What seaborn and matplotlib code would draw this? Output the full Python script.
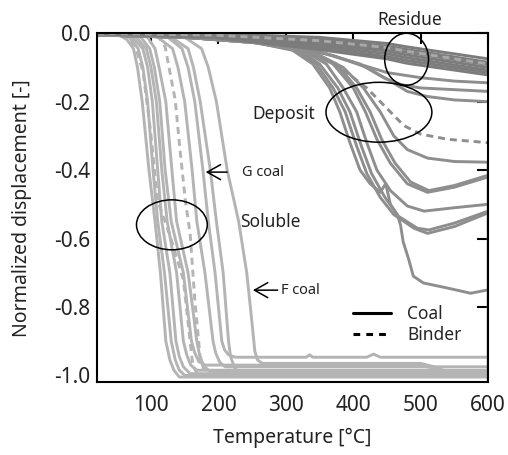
import matplotlib
matplotlib.use("Agg")
import matplotlib.pyplot as plt
import seaborn as sns
from matplotlib.patches import Ellipse
from matplotlib.lines import Line2D

sns.set_theme(style="white")
plt.rcParams['font.family'] = ['Noto Sans', 'DejaVu Sans']
plt.rcParams['axes.unicode_minus'] = False

# ---------------- data ----------------
# Soluble (light gray) - coal (solid)
sol1_T = [20, 45, 62, 74, 80, 87, 97, 106, 114, 122, 128, 134, 142, 600]
sol1_D = [0, -0.002, -0.012, -0.045, -0.1, -0.2, -0.4, -0.55, -0.7, -0.9, -0.955, -0.985, -1.005, -1.005]
sol2_T = [20, 50, 68, 81, 88, 95, 103, 110, 120, 130, 136, 142, 150, 600]
sol2_D = [0, -0.002, -0.012, -0.045, -0.1, -0.2, -0.4, -0.55, -0.7, -0.9, -0.955, -0.985, -1.0, -1.0]
sol3_T = [20, 55, 72, 88, 95, 102, 110, 116, 128, 137, 142, 148, 158, 600]
sol3_D = [0, -0.002, -0.012, -0.045, -0.1, -0.2, -0.4, -0.55, -0.7, -0.9, -0.945, -0.975, -0.995, -0.995]
sol4_T = [20, 60, 78, 93, 100, 108, 116, 124, 138, 148, 153, 159, 168, 600]
sol4_D = [0, -0.002, -0.012, -0.045, -0.1, -0.2, -0.4, -0.55, -0.7, -0.9, -0.94, -0.97, -0.985, -0.985]
sol5_T = [20, 65, 85, 98, 105, 113, 121, 130, 148, 160, 165, 171, 180, 500, 530, 555, 600]
sol5_D = [0, -0.002, -0.012, -0.045, -0.1, -0.2, -0.4, -0.55, -0.7, -0.9, -0.935, -0.96, -0.97, -0.97,
          -0.985, -1.0, -1.0]
sol6_T = [20, 75, 95, 106, 112, 122, 131, 138, 155, 168, 172, 178, 188, 600]
sol6_D = [0, -0.002, -0.012, -0.045, -0.1, -0.2, -0.4, -0.55, -0.7, -0.9, -0.94, -0.972, -0.99, -0.99]
sol7_T = [20, 90, 110, 132, 140, 150, 161, 168, 180, 192, 196, 202, 210, 600]
sol7_D = [0, -0.002, -0.012, -0.045, -0.1, -0.2, -0.4, -0.55, -0.7, -0.9, -0.935, -0.962, -0.975, -0.975]
solG_T = [20, 100, 125, 146, 155, 165, 177, 185, 195, 205, 209, 215, 225, 330, 335, 340, 420, 430, 440, 600]
solG_D = [0, -0.002, -0.012, -0.045, -0.1, -0.2, -0.4, -0.55, -0.7, -0.9, -0.925, -0.94, -0.947, -0.947,
          -0.94, -0.947, -0.947, -0.938, -0.947, -0.947]
sol8_T = [20, 110, 130, 155, 163, 173, 188, 197, 207, 215, 218, 224, 232, 600]
sol8_D = [0, -0.002, -0.012, -0.045, -0.1, -0.2, -0.4, -0.55, -0.7, -0.9, -0.945, -0.978, -0.995, -0.995]
solF_T = [20, 125, 150, 175, 185, 197, 213, 230, 242, 250, 254, 258, 265, 500, 520, 540, 570, 600]
solF_D = [0, -0.002, -0.012, -0.045, -0.1, -0.2, -0.4, -0.55, -0.7, -0.85, -0.93, -0.955, -0.965, -0.965,
          -0.975, -0.99, -1.0, -1.0]
# Soluble - binder (dashed)
solbA_T = [20, 50, 61, 76, 88, 99, 110, 128, 148, 158, 162, 170, 600]
solbA_D = [0, 0, -0.015, -0.035, -0.11, -0.28, -0.49, -0.59, -0.72, -0.9, -0.97, -1.0, -1.0]
solbB_T = [20, 99, 112, 121, 136, 143, 151, 158, 165, 173, 178, 186, 600]
solbB_D = [0, 0, -0.012, -0.04, -0.196, -0.34, -0.49, -0.585, -0.78, -0.95, -0.98, -0.99, -0.99]

# Deposit (medium gray) - coal (solid)
dep1_T = [20, 200, 300, 350, 400, 450, 500, 550, 600]
dep1_D = [-0.005, -0.015, -0.033, -0.055, -0.085, -0.115, -0.13, -0.14, -0.145]
dep2_T = [20, 200, 300, 360, 410, 445, 470, 500, 550, 600]
dep2_D = [-0.005, -0.015, -0.035, -0.06, -0.09, -0.13, -0.15, -0.16, -0.165, -0.17]
dep3_T = [20, 200, 300, 370, 420, 455, 480, 510, 550, 600]
dep3_D = [-0.005, -0.016, -0.036, -0.065, -0.1, -0.14, -0.17, -0.185, -0.195, -0.2]
dep4_T = [20, 150, 270, 340, 385, 415, 440, 460, 480, 510, 550, 600, 600]
dep4_D = [-0.005, -0.012, -0.03, -0.055, -0.1, -0.16, -0.23, -0.3, -0.34, -0.365, -0.375, -0.377, -1.02]
dep5_T = [20, 150, 260, 330, 370, 400, 418, 435, 455, 480, 510, 550, 600]
dep5_D = [-0.005, -0.012, -0.028, -0.05, -0.09, -0.16, -0.23, -0.31, -0.38, -0.44, -0.465, -0.45, -0.42]
dep6_T = [20, 150, 260, 335, 375, 405, 425, 442, 462, 485, 512, 550, 600]
dep6_D = [-0.005, -0.012, -0.028, -0.05, -0.09, -0.16, -0.23, -0.31, -0.38, -0.435, -0.46, -0.445, -0.415]
dep7_T = [20, 150, 260, 325, 360, 385, 405, 420, 435, 455, 480, 505, 550, 600]
dep7_D = [-0.005, -0.012, -0.027, -0.05, -0.09, -0.16, -0.23, -0.32, -0.4, -0.46, -0.505, -0.52, -0.51, -0.5]
dep8_T = [20, 150, 250, 315, 345, 370, 388, 405, 420, 440, 460, 490, 510, 550, 600]
dep8_D = [-0.005, -0.01, -0.025, -0.05, -0.09, -0.16, -0.23, -0.33, -0.41, -0.48, -0.53, -0.57, -0.585,
          -0.565, -0.525]
dep9_T = [20, 150, 250, 320, 350, 377, 395, 412, 427, 447, 467, 495, 512, 550, 600]
dep9_D = [-0.005, -0.012, -0.027, -0.05, -0.09, -0.16, -0.23, -0.33, -0.41, -0.48, -0.535, -0.57, -0.575,
          -0.555, -0.52]
dep10_T = [20, 150, 250, 310, 340, 365, 380, 395, 410, 425, 440, 448, 455, 465, 470, 474, 482, 489,
           504, 540, 574, 600]
dep10_D = [-0.005, -0.01, -0.025, -0.05, -0.09, -0.16, -0.23, -0.32, -0.4, -0.44, -0.465, -0.44, -0.5,
           -0.53, -0.56, -0.61, -0.66, -0.71, -0.73, -0.745, -0.76, -0.75]
# Deposit - binder (dashed)
depb_T = [20, 150, 270, 340, 380, 420, 455, 475, 500, 540, 600]
depb_D = [-0.005, -0.012, -0.03, -0.06, -0.1, -0.16, -0.23, -0.27, -0.295, -0.31, -0.32]

# Residue (dark gray) - coal (solid)
res_T = [20, 200, 350, 450, 480, 600]
res1_D = [0, -0.002, -0.012, -0.03, -0.04, -0.075]
res2_D = [0, -0.004, -0.018, -0.038, -0.048, -0.085]
res3_D = [0, -0.006, -0.024, -0.045, -0.056, -0.092]
res4_D = [0, -0.008, -0.03, -0.052, -0.064, -0.1]
res5_D = [0, -0.01, -0.036, -0.06, -0.072, -0.108]
res6_D = [0, -0.012, -0.042, -0.068, -0.08, -0.115]
res7_D = [0, -0.014, -0.048, -0.075, -0.088, -0.122]
# Residue - binder (dashed)
resb_D = [0, -0.006, -0.022, -0.042, -0.053, -0.09]

x_ticks = [100, 200, 300, 400, 500, 600]
y_ticks = [0.0, -0.2, -0.4, -0.6, -0.8, -1.0]
y_tick_labels = ["0.0", "-0.2", "-0.4", "-0.6", "-0.8", "-1.0"]

# ---------------- plot ----------------
fig = plt.figure(figsize=(5.08, 4.55), dpi=100)
ax = fig.add_axes([0.191, 0.160, 0.770, 0.767])

c_sol = "#b4b4b4"
c_dep = "#8e8e8e"
c_res = "#7c7c7c"
lw = 2.1
dash = (0, (2.4, 1.7))

def draw(T, D, color, ls="-"):
    sns.lineplot(x=T, y=D, ax=ax, color=color, linestyle=ls, lw=lw,
                 sort=False, estimator=None, legend=False)

for T, D in [(sol1_T, sol1_D), (sol2_T, sol2_D), (sol3_T, sol3_D), (sol4_T, sol4_D),
             (sol5_T, sol5_D), (sol6_T, sol6_D), (sol7_T, sol7_D), (solG_T, solG_D),
             (sol8_T, sol8_D), (solF_T, solF_D)]:
    draw(T, D, c_sol)
draw(solbA_T, solbA_D, c_sol, dash)
draw(solbB_T, solbB_D, c_sol, dash)

for T, D in [(dep1_T, dep1_D), (dep2_T, dep2_D), (dep3_T, dep3_D), (dep4_T, dep4_D),
             (dep5_T, dep5_D), (dep6_T, dep6_D), (dep7_T, dep7_D), (dep8_T, dep8_D),
             (dep9_T, dep9_D), (dep10_T, dep10_D)]:
    draw(T, D, c_dep)
draw(depb_T, depb_D, c_dep, dash)

for D in [res1_D, res2_D, res3_D, res4_D, res5_D, res6_D, res7_D]:
    draw(res_T, D, c_res)
draw(res_T, resb_D, "#a8a8a8", dash)

ax.set_xlim(20, 600)
ax.set_ylim(-1.02, 0.0)
ax.set_xticks(x_ticks)
ax.set_xticklabels([str(v) for v in x_ticks])
ax.set_yticks(y_ticks)
ax.set_yticklabels(y_tick_labels)
ax.tick_params(axis="both", which="both", direction="in", length=8, width=1.5,
               top=True, right=True, labelsize=15, color="black", labelcolor="#222222")
ax.tick_params(axis="x", pad=9)
ax.tick_params(axis="y", pad=5)
for s in ax.spines.values():
    s.set_color("black")
    s.set_linewidth(1.5)

ax.set_xlabel("Temperature [°C]", fontsize=14, labelpad=9, color="#222222")
ax.set_ylabel("Normalized displacement [-]", fontsize=14, labelpad=16, color="#222222")

# ellipses
for (cx, cy, w, h) in [(131, -0.56, 105, 0.146), (438, -0.231, 157, 0.175), (479, -0.076, 65, 0.152)]:
    ax.add_patch(Ellipse((cx, cy), w, h, fill=False, edgecolor="black", lw=1.1, clip_on=False, zorder=5))

ax.text(484, 0.012, "Residue", fontsize=12.5, ha="center", va="bottom", color="#222222")
ax.text(297, -0.237, "Deposit", fontsize=12.5, ha="center", va="center", color="#222222")
ax.text(277, -0.553, "Soluble", fontsize=12.5, ha="center", va="center", color="#222222")

arrow = dict(arrowstyle="->,head_length=0.8,head_width=0.45", lw=1.1, color="black")
ax.annotate("", xy=(177, -0.406), xytext=(217, -0.406), arrowprops=arrow)
ax.text(235, -0.406, "G coal", fontsize=10.5, ha="left", va="center", color="#222222")
ax.annotate("", xy=(247, -0.751), xytext=(292, -0.751), arrowprops=arrow)
ax.text(293, -0.751, "F coal", fontsize=10.5, ha="left", va="center", color="#222222")

handles = [Line2D([], [], color="black", lw=2.2, ls="-"),
           Line2D([], [], color="black", lw=2.2, ls=(0, (2.2, 2.0)))]
ax.legend(handles, ["Coal", "Binder"], loc="upper left", bbox_to_anchor=(0.655, 0.222),
          frameon=False, fontsize=12.5, handlelength=2.2, handletextpad=0.9,
          labelspacing=0.2, borderpad=0, borderaxespad=0)

fig.savefig("out.png", dpi=100)
